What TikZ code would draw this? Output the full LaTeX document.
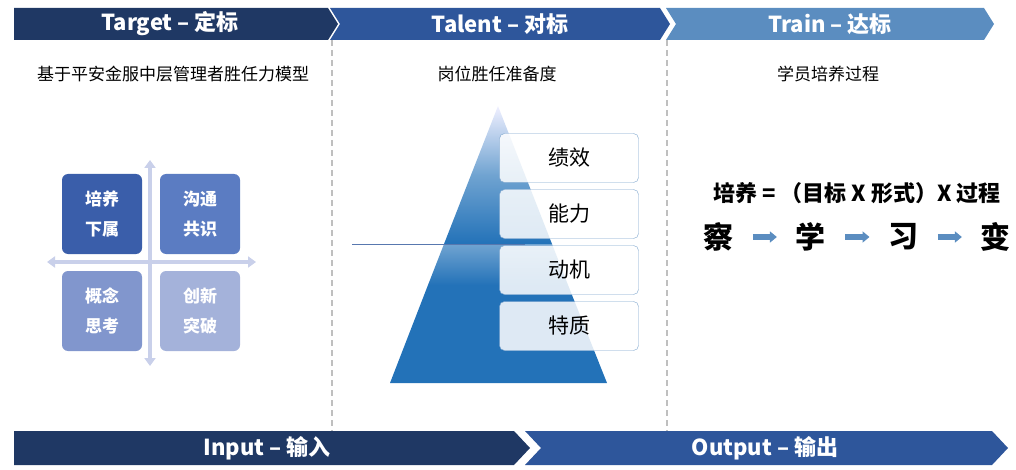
\documentclass[tikz,border=0pt]{standalone}
\usepackage{fontspec}
\setmainfont{Noto Sans CJK SC}
\usetikzlibrary{arrows.meta,shadings,calc}
\definecolor{navy}{HTML}{1F3864}
\definecolor{midblue}{HTML}{2E569B}
\definecolor{skyblue}{HTML}{5B8DC0}
\definecolor{pyrblue}{HTML}{2372B8}
\definecolor{quada}{HTML}{3A5EAA}
\definecolor{quadb}{HTML}{5B7CC2}
\definecolor{quadc}{HTML}{8196CD}
\definecolor{quadd}{HTML}{A4B2DA}
\definecolor{lavender}{HTML}{C9D0EA}
\tikzset{
  banner/.style={fill=#1,draw=none},
  bannertext/.style={text=white,font=\bfseries\fontsize{22}{24}\selectfont},
  quad/.style={fill=#1,rounded corners=6pt,minimum width=80pt,minimum height=80pt,
    text=white,font=\bfseries\fontsize{17}{30}\selectfont,align=center},
  level/.style={draw=skyblue!80,fill=white,fill opacity=0.85,text opacity=1,rounded corners=5pt,
    minimum width=139pt,minimum height=49pt,font=\fontsize{21}{24}\selectfont},
  caption/.style={font=\fontsize{17}{20}\selectfont},
  bigchar/.style={font=\bfseries\fontsize{30}{32}\selectfont},
  flowarr/.style={-{Triangle[length=7pt,width=11pt]},line width=5pt,color=skyblue},
  axis/.style={{Triangle[length=8pt,width=11pt]}-{Triangle[length=8pt,width=11pt]},line width=3.5pt,color=lavender}
}
\begin{document}
\begin{tikzpicture}[x=1pt,y=-1pt]
\useasboundingbox (0,0) rectangle (1016,470);
% top banners
\fill[banner=navy] (14,8) -- (328,8) -- (338,24) -- (328,40) -- (14,40) -- cycle;
\fill[banner=midblue] (330,8) -- (660,8) -- (670,24) -- (660,40) -- (330,40) -- (340,24) -- cycle;
\fill[banner=skyblue] (666,8) -- (984,8) -- (994,24) -- (984,40) -- (666,40) -- (676,24) -- cycle;
\node[bannertext] (tgt) at (170,24) {Target – 定标};
\node[bannertext] (tal) at (500,24) {Talent – 对标};
\node[bannertext] (trn) at (830,24) {Train – 达标};
% bottom banners
\fill[banner=navy] (14,431) -- (514,431) -- (530,448) -- (514,465) -- (14,465) -- cycle;
\fill[banner=midblue] (525,431) -- (992,431) -- (1008,448) -- (992,465) -- (525,465) -- (541,448) -- cycle;
\node[bannertext] (inp) at (267,448) {Input – 输入};
\node[bannertext] (outp) at (765,448) {Output – 输出};
% separators
\draw[gray!50,dash pattern=on 6pt off 4pt,line width=1.2pt] (332,40) -- (332,431);
\draw[gray!50,dash pattern=on 6pt off 4pt,line width=1.2pt] (667,40) -- (667,431);
% captions
\node[caption] (capa) at (173,74) {基于平安金服中层管理者胜任力模型};
\node[caption] (capb) at (497,74) {岗位胜任准备度};
\node[caption] (capc) at (828,74) {学员培养过程};
% left quadrant
\coordinate (qt) at (150,160);
\coordinate (qb) at (150,366);
\coordinate (ql) at (47,262);
\coordinate (qr) at (256,262);
\draw[axis] (qt) -- (qb);
\draw[axis] (ql) -- (qr);
\node[quad=quada] (q1) at (102,214) {培养\\下属};
\node[quad=quadb] (q2) at (200,214) {沟通\\共识};
\node[quad=quadc] (q3) at (102,311) {概念\\思考};
\node[quad=quadd] (q4) at (200,311) {创新\\突破};
% pyramid
\shade[top color=blue!6!white,bottom color=pyrblue,middle color=pyrblue!65!white] (498,106) -- (552,244) -- (444,244) -- cycle;
\shade[top color=pyrblue!65!white,bottom color=pyrblue] (444,244) -- (552,244) -- (568,285) -- (428,285) -- cycle;
\fill[pyrblue] (428,285) -- (568,285) -- (607,383) -- (390,383) -- cycle;
\draw[midblue!80,line width=0.8pt] (352,244) -- (525,244);
\node[level] (l1) at (569,158) {绩效};
\node[level] (l2) at (569,214) {能力};
\node[level] (l3) at (569,270) {动机};
\node[level] (l4) at (569,326) {特质};
% right formula
\node[font=\bfseries\fontsize{22}{24}\selectfont] (form) at (857,193) {培养 =\ （目标 X 形式）X 过程};
\node[bigchar] (s1) at (718,237) {察};
\node[bigchar] (s2) at (810,237) {学};
\node[bigchar] (s3) at (903,237) {习};
\node[bigchar] (s4) at (995,237) {变};
\draw[flowarr] ($(s1)!0.38!(s2)$) -- ($(s1)!0.64!(s2)$);
\draw[flowarr] ($(s2)!0.38!(s3)$) -- ($(s2)!0.64!(s3)$);
\draw[flowarr] ($(s3)!0.38!(s4)$) -- ($(s3)!0.64!(s4)$);
\end{tikzpicture}
\end{document}
